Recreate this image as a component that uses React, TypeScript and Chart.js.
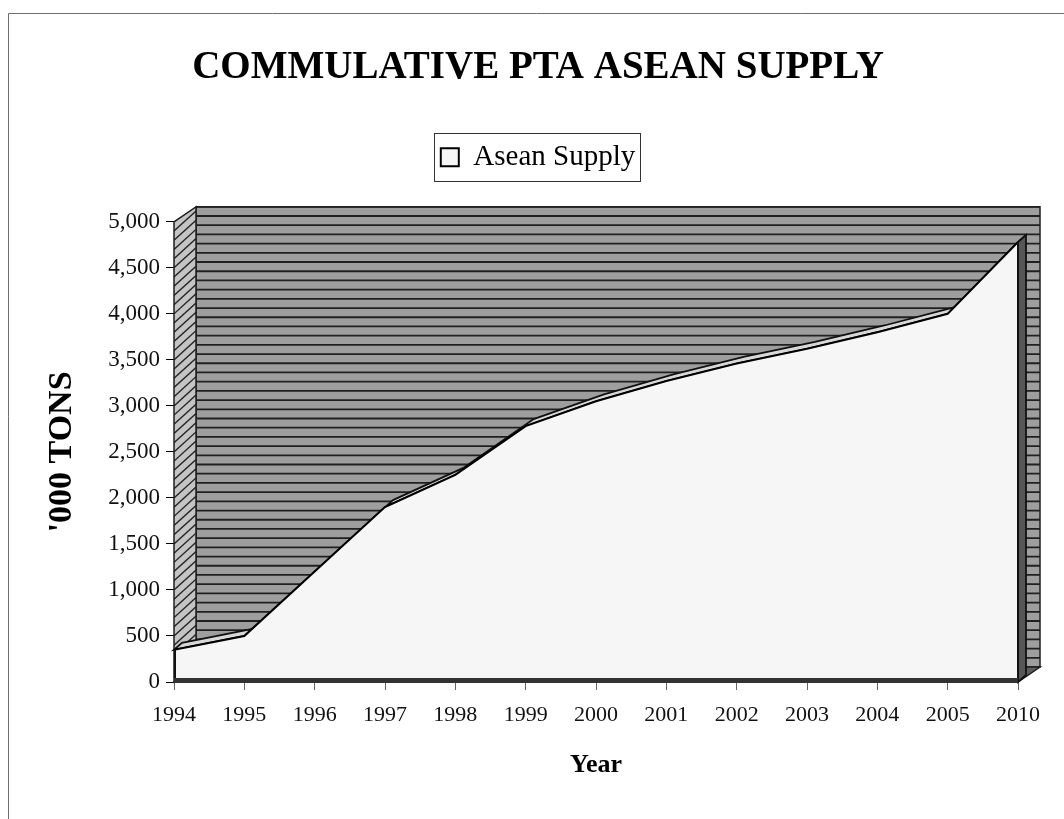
import React, { useEffect, useRef } from "react";
import { Chart, registerables } from "chart.js";

Chart.register(...registerables);

// ---- data ----
const years = ["1994", "1995", "1996", "1997", "1998", "1999", "2000", "2001", "2002", "2003", "2004", "2005", "2010"];
const aseanSupply = [350, 500, 1200, 1900, 2250, 2780, 3050, 3270, 3460, 3620, 3800, 4000, 4780];
const yMin = 0;
const yMax = 5000;
const yStep = 500;
const wallLineStep = 100;
const chartTitle = "COMMULATIVE PTA ASEAN SUPPLY";
const seriesLabel = "Asean Supply";
const yAxisTitle = "'000 TONS";
const xAxisTitle = "Year";

// ---- style ----
const FONT = "'Liberation Serif', 'Times New Roman', serif";
const WALL_DX = 22;
const WALL_DY = -15;
const SLAB_DX = 8;
const SLAB_DY = -7;

const frame3d = {
  id: "frame3d",
  beforeDraw(chart: any) {
    const ctx = chart.ctx;
    ctx.save();
    ctx.fillStyle = "#ffffff";
    ctx.fillRect(0, 0, chart.width, chart.height);
    ctx.strokeStyle = "#6e6e6e";
    ctx.lineWidth = 1;
    ctx.beginPath();
    ctx.moveTo(8.5, chart.height);
    ctx.lineTo(8.5, 13.5);
    ctx.lineTo(chart.width, 13.5);
    ctx.stroke();
    ctx.restore();
  },
  beforeDatasetsDraw(chart: any) {
    const { ctx, chartArea, scales } = chart;
    const { left: L, right: R, top: T, bottom: B } = chartArea;
    const y = scales.y;
    const bl = L + WALL_DX, br = R + WALL_DX, bt = T + WALL_DY, bb = B + WALL_DY;
    ctx.save();

    // back wall
    ctx.fillStyle = "#9e9e9e";
    ctx.fillRect(bl, bt, br - bl, bb - bt);
    ctx.strokeStyle = "#202020";
    ctx.lineWidth = 1.8;
    for (let v = y.min + wallLineStep; v <= y.max; v += wallLineStep) {
      const py = y.getPixelForValue(v) + WALL_DY;
      ctx.beginPath();
      ctx.moveTo(bl, py);
      ctx.lineTo(br, py);
      ctx.stroke();
    }
    ctx.lineWidth = 1.5;
    ctx.strokeRect(bl, bt, br - bl, bb - bt);

    // left wall
    ctx.beginPath();
    ctx.moveTo(L, T);
    ctx.lineTo(bl, bt);
    ctx.lineTo(bl, bb);
    ctx.lineTo(L, B);
    ctx.closePath();
    ctx.fillStyle = "#c4c4c4";
    ctx.fill();
    ctx.save();
    ctx.clip();
    ctx.strokeStyle = "#262626";
    ctx.lineWidth = 1.4;
    for (let v = y.min - 2 * wallLineStep; v <= y.max + wallLineStep; v += wallLineStep) {
      const py = y.getPixelForValue(v);
      ctx.beginPath();
      ctx.moveTo(L, py);
      ctx.lineTo(bl, py - 20);
      ctx.stroke();
    }
    ctx.restore();
    ctx.beginPath();
    ctx.moveTo(L, T);
    ctx.lineTo(bl, bt);
    ctx.lineTo(bl, bb);
    ctx.lineTo(L, B);
    ctx.closePath();
    ctx.strokeStyle = "#1e1e1e";
    ctx.lineWidth = 1.5;
    ctx.stroke();

    // floor
    ctx.beginPath();
    ctx.moveTo(L, B);
    ctx.lineTo(R, B);
    ctx.lineTo(br, bb);
    ctx.lineTo(bl, bb);
    ctx.closePath();
    ctx.fillStyle = "#5e5e5e";
    ctx.fill();
    ctx.strokeStyle = "#1e1e1e";
    ctx.stroke();

    // slab top band and right face
    const meta = chart.getDatasetMeta(0);
    const pts = meta.data.map((p: any) => ({ x: p.x, y: p.y }));
    if (pts.length) {
      ctx.beginPath();
      pts.forEach((p: any, i: number) => (i === 0 ? ctx.moveTo(p.x, p.y) : ctx.lineTo(p.x, p.y)));
      for (let i = pts.length - 1; i >= 0; i--) ctx.lineTo(pts[i].x + SLAB_DX, pts[i].y + SLAB_DY);
      ctx.closePath();
      ctx.fillStyle = "#d8d8d8";
      ctx.fill();
      ctx.strokeStyle = "#111";
      ctx.lineWidth = 1.8;
      ctx.stroke();

      const last = pts[pts.length - 1];
      ctx.beginPath();
      ctx.moveTo(last.x, last.y);
      ctx.lineTo(last.x + SLAB_DX, last.y + SLAB_DY);
      ctx.lineTo(last.x + SLAB_DX, B + SLAB_DY);
      ctx.lineTo(last.x, B);
      ctx.closePath();
      ctx.fillStyle = "#575757";
      ctx.fill();
      ctx.strokeStyle = "#111";
      ctx.stroke();
    }
    ctx.restore();
  },
  afterDatasetsDraw(chart: any) {
    const { ctx, chartArea } = chart;
    const { left: L, right: R, bottom: B } = chartArea;
    const meta = chart.getDatasetMeta(0);
    const pts = meta.data.map((p: any) => ({ x: p.x, y: p.y }));
    ctx.save();
    ctx.strokeStyle = "#111";
    ctx.lineWidth = 2;
    if (pts.length) {
      const first = pts[0];
      const last = pts[pts.length - 1];
      ctx.beginPath();
      ctx.moveTo(first.x + 1, first.y);
      ctx.lineTo(first.x + 1, B);
      ctx.moveTo(last.x, last.y);
      ctx.lineTo(last.x, B);
      ctx.stroke();
    }
    ctx.fillStyle = "#333";
    ctx.fillRect(L, B - 4, R - L, 5);
    ctx.restore();
  },
  afterDraw(chart: any) {
    const lg = chart.legend;
    if (!lg || !lg.legendHitBoxes || !lg.legendHitBoxes.length) return;
    const hb = lg.legendHitBoxes[0];
    const ctx = chart.ctx;
    ctx.save();
    ctx.strokeStyle = "#333";
    ctx.lineWidth = 1;
    ctx.strokeRect(
      Math.round(hb.left - 7) + 0.5,
      Math.round(hb.top - 10) + 0.5,
      Math.round(hb.width + 12),
      Math.round(hb.height + 19)
    );
    ctx.restore();
  },
};

export default function App() {
  const ref = useRef<HTMLCanvasElement>(null);

  useEffect(() => {
    if (!ref.current) return;
    const chart = new Chart(ref.current, {
      type: "line",
      data: {
        labels: years,
        datasets: [
          {
            label: seriesLabel,
            data: aseanSupply,
            fill: "origin",
            backgroundColor: "#f6f6f6",
            borderColor: "#000000",
            borderWidth: 2,
            pointRadius: 0,
            pointHoverRadius: 0,
            tension: 0,
          },
        ],
      },
      options: {
        responsive: false,
        animation: false,
        devicePixelRatio: 1,
        events: [],
        layout: { padding: { top: 10, left: 58, right: 46, bottom: 38 } },
        plugins: {
          title: {
            display: true,
            text: chartTitle,
            color: "#000",
            font: { family: FONT, size: 39, weight: "bold" },
            padding: { top: 35, bottom: 41 },
          },
          subtitle: {
            display: true,
            text: "",
            weight: 500,
            font: { family: FONT, size: 10 },
            padding: { top: 28, bottom: 0 },
          } as any,
          legend: {
            display: true,
            position: "top",
            labels: {
              color: "#000",
              font: { family: FONT, size: 29 },
              boxWidth: 18,
              boxHeight: 18,
              padding: 10,
            },
          },
          tooltip: { enabled: false },
        },
        scales: {
          x: {
            type: "category",
            offset: false,
            grid: { display: true, drawOnChartArea: false, drawTicks: true, tickLength: 8, color: "#666" },
            border: { display: true, color: "#000", width: 1 },
            ticks: { color: "#111", font: { family: FONT, size: 22 }, padding: 12, maxRotation: 0, autoSkip: false },
            title: {
              display: true,
              text: xAxisTitle,
              color: "#000",
              font: { family: FONT, size: 26, weight: "bold" },
              padding: { top: 0, bottom: 0 },
            },
            afterFit: (scale: any) => {
              scale.height = 99;
            },
          },
          y: {
            min: yMin,
            max: yMax,
            grid: { display: true, drawOnChartArea: false, drawTicks: true, tickLength: 8, color: "#000" },
            border: { display: true, color: "#000", width: 1 },
            ticks: {
              stepSize: yStep,
              color: "#111",
              padding: 6,
              font: { family: FONT, size: 23 },
              callback: (v: any) => Number(v).toLocaleString("en-US"),
            },
            title: {
              display: true,
              text: yAxisTitle,
              color: "#000",
              font: { family: FONT, size: 34, weight: "bold" },
              padding: { top: -16, bottom: 0 },
            },
            afterFit: (scale: any) => {
              scale.width = 116;
            },
          },
        },
      },
      plugins: [frame3d],
    } as any);
    return () => chart.destroy();
  }, []);

  return (
    <div style={{ position: "absolute", left: 0, top: 0, width: 1064, height: 819, background: "#fff" }}>
      <canvas ref={ref} width={1064} height={819} style={{ display: "block", width: 1064, height: 819 }} />
    </div>
  );
}
